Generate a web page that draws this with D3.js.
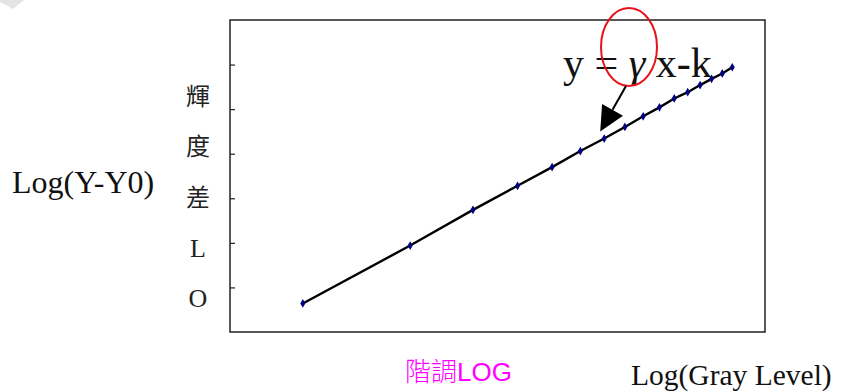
<!DOCTYPE html>
<html>
<head>
<meta charset="utf-8">
<script src="https://cdn.jsdelivr.net/npm/d3@7"></script>
<style>
  html, body { margin: 0; padding: 0; background: #fff; }
  svg { display: block; }
</style>
</head>
<body>
<svg id="chart" width="850" height="392"></svg>
<script>
// Gray levels sampled (x, plotted on a log axis)
const grayLevels = [16, 32, 48, 64, 80, 96, 112, 128, 144, 160, 176, 192, 208, 224, 240, 256];
// log10 of the luminance difference (Y - Y0) at each gray level
const logLuminanceDiff = [-0.68, -0.03, 0.37, 0.64, 0.85, 1.03, 1.17, 1.30, 1.42, 1.52, 1.62, 1.69, 1.77, 1.84, 1.90, 1.97];
// Y tick positions (unlabelled)
const yTickValues = [-0.5, 0, 0.5, 1.0, 1.5, 2.0];
// Vertical axis caption characters
const yCaptionChars = ["輝", "度", "差", "L", "O"];

const svg = d3.select("#chart");
const plot = { left: 230, top: 20, right: 765, bottom: 332 };

const x = d3.scaleLog().domain([10, Math.pow(10, 2.5)]).range([plot.left, plot.right]);
const y = d3.scaleLinear().domain([-1, 2.5]).range([plot.bottom, plot.top]);

// faint corner shape at top-left
svg.append("polygon")
  .attr("points", "0,0 24,0 13,9 0,2")
  .attr("fill", "#e4e4e4");

// plot frame
svg.append("rect")
  .attr("x", plot.left).attr("y", plot.top)
  .attr("width", plot.right - plot.left).attr("height", plot.bottom - plot.top)
  .attr("fill", "none").attr("stroke", "#222").attr("stroke-width", 1.5);

// inward y ticks without labels
const yAxis = d3.axisLeft(y).tickValues(yTickValues).tickSize(-5).tickFormat("");
const gy = svg.append("g").attr("transform", `translate(${plot.left},0)`).call(yAxis);
gy.select(".domain").remove();
gy.selectAll(".tick line").attr("stroke", "#222").attr("stroke-width", 1.2);

const pts = grayLevels.map((g, i) => ({ g, v: logLuminanceDiff[i] }));

// fitted curve
svg.append("path")
  .datum(pts)
  .attr("fill", "none")
  .attr("stroke", "#000")
  .attr("stroke-width", 2.4)
  .attr("d", d3.line().x(d => x(d.g)).y(d => y(d.v)));

// data markers
svg.selectAll(".pt").data(pts).enter().append("path")
  .attr("class", "pt")
  .attr("transform", d => `translate(${x(d.g)},${y(d.v)})`)
  .attr("d", d3.symbol().type(d3.symbolDiamond).size(22))
  .attr("fill", "#000080");

// equation annotation
const eq = svg.append("text")
  .attr("x", 563).attr("y", 77)
  .attr("font-family", "Liberation Serif, Times New Roman, serif")
  .attr("font-size", 42)
  .attr("fill", "#111");
eq.append("tspan").text("y = ");
eq.append("tspan").attr("font-style", "italic").text("γ");
eq.append("tspan").text(" x-k");

// red ellipse around gamma
svg.append("ellipse")
  .attr("cx", 629).attr("cy", 47).attr("rx", 28).attr("ry", 39)
  .attr("fill", "none").attr("stroke", "#e8141c").attr("stroke-width", 2);

// arrow pointing at the curve
const anchor = pts[6];
const tipX = x(anchor.g) - 4, tipY = y(anchor.v) - 7;
const startX = 626, startY = 86;
const ang = Math.atan2(tipY - startY, tipX - startX);
const headLen = 25, headHalf = 12;
const baseX = tipX - headLen * Math.cos(ang), baseY = tipY - headLen * Math.sin(ang);
svg.append("line")
  .attr("x1", startX).attr("y1", startY).attr("x2", baseX).attr("y2", baseY)
  .attr("stroke", "#000").attr("stroke-width", 2);
svg.append("polygon")
  .attr("points", [
    [tipX, tipY],
    [baseX + headHalf * Math.sin(ang), baseY - headHalf * Math.cos(ang)],
    [baseX - headHalf * Math.sin(ang), baseY + headHalf * Math.cos(ang)]
  ].map(p => p.join(",")).join(" "))
  .attr("fill", "#000");

// left axis captions
svg.append("text")
  .attr("x", 12).attr("y", 193)
  .attr("font-family", "Liberation Serif, Times New Roman, serif")
  .attr("font-size", 32).attr("fill", "#111")
  .text("Log(Y-Y0)");

svg.selectAll(".ych").data(yCaptionChars).enter().append("text")
  .attr("class", "ych")
  .attr("x", 198)
  .attr("y", (d, i) => 96 + i * 50.5)
  .attr("dy", "0.36em")
  .attr("text-anchor", "middle")
  .attr("font-family", (d, i) => i < 3 ? "Noto Sans CJK TC" : "Liberation Serif, serif")
  .attr("font-size", (d, i) => i < 3 ? 24 : 26)
  .attr("font-weight", 400)
  .attr("fill", "#222")
  .text(d => d);

// bottom captions
const gl = svg.append("text")
  .attr("x", 405).attr("y", 381)
  .attr("font-size", 26).attr("fill", "#ff00ff");
gl.append("tspan").attr("font-family", "Noto Sans CJK TC").attr("font-weight", 300).text("階調");
gl.append("tspan").attr("font-family", "Liberation Sans, Arial, sans-serif").text("LOG");

svg.append("text")
  .attr("x", 631).attr("y", 385)
  .attr("font-family", "Liberation Serif, Times New Roman, serif")
  .attr("font-size", 29.5).attr("fill", "#111")
  .text("Log(Gray Level)");
</script>
</body>
</html>
